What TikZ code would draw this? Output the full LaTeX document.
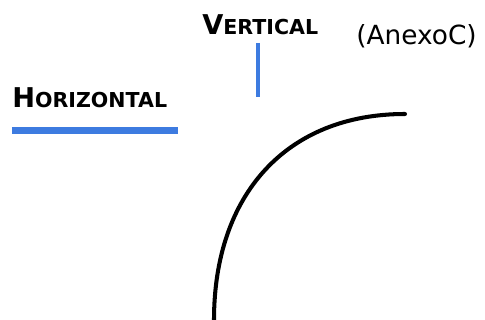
\documentclass[tikz,border=0pt]{standalone}
\usepackage{fontspec}
\setmainfont{DejaVu Sans}
\newfontfamily\capsfont{DejaVu Sans}
\usetikzlibrary{positioning}

\definecolor{axisblue}{HTML}{3D7BE0}

% fake small caps: big first letter, smaller rest
\newcommand{\bigsmall}[2]{{\fontsize{15.5}{15.5}\selectfont #1}{\fontsize{11.7}{11.7}\selectfont #2}}

\begin{document}
\begin{tikzpicture}[x=0.02cm, y=-0.02cm,
    axislabel/.style={font=\capsfont\bfseries, inner sep=0pt, anchor=base west},
    axisbar/.style={axisblue}]
    \useasboundingbox (0,0) rectangle (485,320);

    % Vertical label and bar
    \node[axislabel] (vlabel) at (202,35) {\bigsmall{V}{ERTICAL}};
    \draw[axisbar, line width=2.8pt] (258,43) -- (258,97);

    % Horizontal label and bar
    \node[axislabel] (hlabel) at (12,108) {\bigsmall{H}{ORIZONTAL}};
    \draw[axisbar, line width=4pt] (12,130.5) -- (178,130.5);

    % annex note
    \node[font=\fontsize{15}{15}\selectfont, inner sep=0pt, anchor=base west] (annex) at (356,45) {(AnexoC)};

    % curve
    \draw[line width=2.3pt, line cap=round] (214,320) .. controls (214,194) and (287,114) .. (405,114);
\end{tikzpicture}
\end{document}
